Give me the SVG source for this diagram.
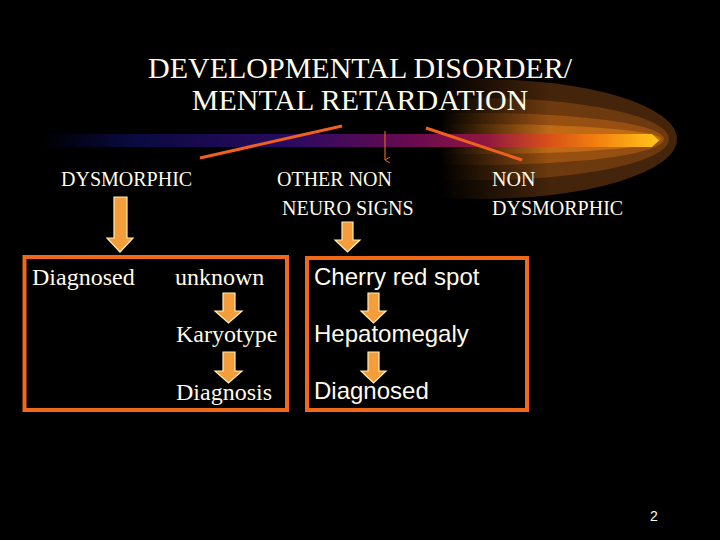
<svg xmlns="http://www.w3.org/2000/svg" width="720" height="540" viewBox="0 0 720 540">
<defs>
<linearGradient id="bar" x1="40" y1="0" x2="660" y2="0" gradientUnits="userSpaceOnUse">
<stop offset="0" stop-color="#000000"/>
<stop offset="0.15" stop-color="#0a0a40"/>
<stop offset="0.4" stop-color="#2a0a60"/>
<stop offset="0.6" stop-color="#6a0a50"/>
<stop offset="0.72" stop-color="#901840"/>
<stop offset="0.82" stop-color="#d85018"/>
<stop offset="0.9" stop-color="#f48010"/>
<stop offset="1" stop-color="#ffc818"/>
</linearGradient>
<linearGradient id="fade" x1="440" y1="0" x2="550" y2="0" gradientUnits="userSpaceOnUse">
<stop offset="0" stop-color="#000"/>
<stop offset="1" stop-color="#fff"/>
</linearGradient>
<mask id="gm" maskUnits="userSpaceOnUse" x="0" y="0" width="720" height="540">
<rect x="0" y="0" width="720" height="540" fill="url(#fade)"/>
</mask>
<linearGradient id="arr" x1="0" y1="0" x2="1" y2="0">
<stop offset="0" stop-color="#f89a38"/>
<stop offset="1" stop-color="#f0a040"/>
</linearGradient>
<marker id="tip" markerWidth="6" markerHeight="6" refX="3" refY="5" orient="auto" markerUnits="userSpaceOnUse">
<path d="M0,0 L3,5 L6,0" fill="none" stroke="#e06020" stroke-width="1"/>
</marker>
</defs>
<style>
.t{font-family:"Liberation Serif","Times New Roman",serif;fill:#fffbe8}
.s{font-family:"Liberation Sans",Arial,sans-serif;fill:#fffbe8}
.box{fill:none;stroke:#f06818;stroke-width:4}
.ln{stroke:#f06020;stroke-width:3;fill:none}
.ba{fill:url(#arr);stroke:#fff0b0;stroke-width:1.2}
</style>
<rect width="720" height="540" fill="#000"/>
<g id="comet">
<g mask="url(#gm)">
<ellipse cx="480" cy="139" rx="197" ry="60" fill="#44240a"/>
<ellipse cx="480" cy="139" rx="189" ry="41" fill="#6c3a0e"/>
<ellipse cx="480" cy="139" rx="184" ry="26" fill="#985012"/>
<ellipse cx="480" cy="139" rx="181" ry="15" fill="#c06a16"/>
</g>
<path d="M40,134 L652,134 L659,140.5 L652,147 L40,147 Z" fill="url(#bar)"/>
</g>
<g id="title">
<text class="t" x="360" y="78" font-size="30" text-anchor="middle">DEVELOPMENTAL DISORDER/</text>
<text class="t" x="360" y="110" font-size="30" text-anchor="middle">MENTAL RETARDATION</text>
</g>
<g id="connectors">
<line class="ln" x1="200" y1="158" x2="342" y2="126"/>
<line x1="385" y1="131" x2="385" y2="160" stroke="#e06020" stroke-width="1.2" marker-end="url(#tip)"/>
<line class="ln" x1="426" y1="128" x2="522" y2="160"/>
<path class="ba" d="M114,197 H127 V238 H133 L120,252 L107,238 H114 Z"/>
<path class="ba" d="M342,222 H353 V240 H360 L347.5,252 L335,240 H342 Z"/>
<path class="ba" d="M223,293 H235 V311 H242 L228.5,323 L215,311 H223 Z"/>
<path class="ba" d="M223,352 H235 V371 H242 L228.5,383 L215,371 H223 Z"/>
<path class="ba" d="M368,293 H379 V311 H386 L373.5,323 L361,311 H368 Z"/>
<path class="ba" d="M368,352 H379 V371 H386 L373.5,383 L361,371 H368 Z"/>
</g>
<g id="n-dysmorphic">
<text class="t" x="61" y="186" font-size="20">DYSMORPHIC</text>
</g>
<g id="n-other">
<text class="t" x="277" y="186" font-size="20">OTHER NON</text>
<text class="t" x="282" y="215" font-size="20">NEURO SIGNS</text>
</g>
<g id="n-non">
<text class="t" x="492" y="186" font-size="20">NON</text>
<text class="t" x="492" y="215" font-size="20">DYSMORPHIC</text>
</g>
<g id="box-left">
<rect class="box" x="24.5" y="257" width="262.5" height="153"/>
<text class="t" x="32" y="285" font-size="24">Diagnosed</text>
<text class="t" x="175" y="285" font-size="24">unknown</text>
<text class="t" x="176" y="342" font-size="24">Karyotype</text>
<text class="t" x="176" y="400" font-size="24">Diagnosis</text>
</g>
<g id="box-right">
<rect class="box" x="307" y="258" width="220" height="152"/>
<text class="s" x="314" y="285" font-size="24">Cherry red spot</text>
<text class="s" x="314" y="342" font-size="24">Hepatomegaly</text>
<text class="s" x="314" y="399" font-size="24">Diagnosed</text>
</g>
<text class="s" x="650" y="521" font-size="14">2</text>
</svg>
